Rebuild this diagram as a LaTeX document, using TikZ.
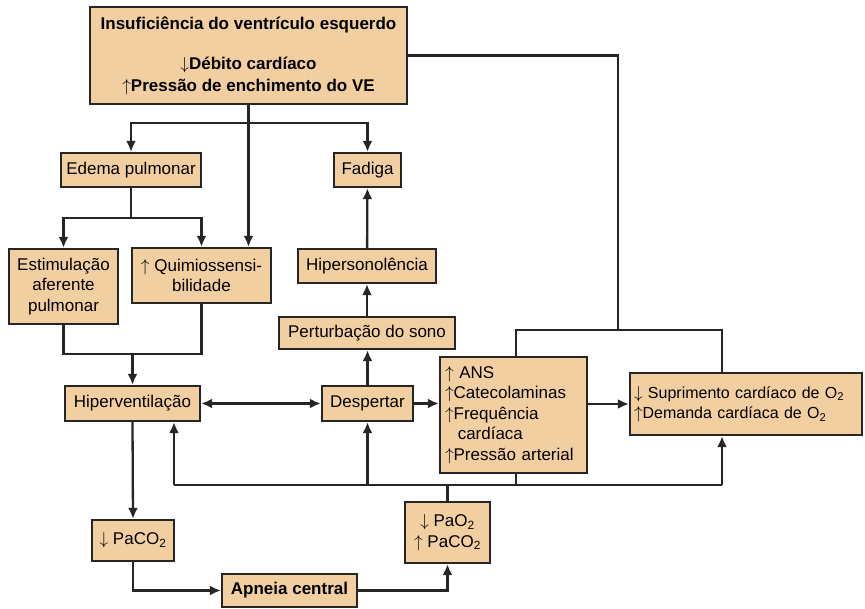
\documentclass[tikz,border=0pt]{standalone}
\usepackage{fontspec}
\setmainfont{Liberation Sans}
\usetikzlibrary{arrows.meta}
\definecolor{bege}{RGB}{242,207,160}
\newcommand{\sobe}{$\uparrow$}
\newcommand{\desce}{$\downarrow$}

\tikzset{
  caixa/.style={draw=black!85, fill=bege, line width=2.3pt, align=center, inner sep=2pt,
    font=\fontsize{17}{20.5}\selectfont},
  linha/.style={line width=2.3pt, draw=black!85},
  seta/.style={linha, -{Latex[length=11pt,width=10pt]}}
}

\begin{document}
\begin{tikzpicture}[x=1pt,y=-1pt]
\useasboundingbox (0,0) rectangle (865,608);

\node[caixa, minimum width=317pt, minimum height=97pt, font=\fontsize{17}{22}\selectfont\bfseries] (topo) at (248.5,55.5)
  {Insuficiência do ventrículo esquerdo\\[18pt]\desce Débito cardíaco\\\sobe Pressão de enchimento do VE};
\node[caixa, minimum width=140pt, minimum height=34pt] (edema) at (131,170) {Edema pulmonar};
\node[caixa, minimum width=67pt, minimum height=34pt] (fadiga) at (367.5,170) {Fadiga};
\node[caixa, minimum width=109pt, minimum height=75pt] (estim) at (63.5,286.5) {Estimulação\\aferente\\pulmonar};
\node[caixa, minimum width=139pt, minimum height=55pt] (quimio) at (201.5,275.5) {\sobe{} Quimiossensi-\\bilidade};
\node[caixa, minimum width=138pt, minimum height=34pt] (hiperson) at (367,266) {Hipersonolência};
\node[caixa, minimum width=176pt, minimum height=32pt] (perturb) at (367,333) {Perturbação do sono};
\node[caixa, minimum width=135pt, minimum height=35pt] (hiperv) at (132.5,403.5) {Hiperventilação};
\node[caixa, minimum width=91pt, minimum height=35pt] (despertar) at (367.5,403.5) {Despertar};
\node[caixa, align=left, text width=137pt, inner xsep=5pt, minimum height=116pt] (ans) at (513.5,415)
  {\sobe{} ANS\\\sobe Catecolaminas\\\sobe Frequência\\\hspace*{0.75em}cardíaca\\\sobe Pressão arterial};
\node[caixa, align=left, text width=224pt, inner xsep=4pt, minimum height=62pt,
  font=\fontsize{16}{20.5}\selectfont] (supr) at (746,404)
  {\desce{} Suprimento cardíaco de O\textsubscript{2}\\\sobe Demanda cardíaca de O\textsubscript{2}};
\node[caixa, minimum width=82pt, minimum height=41pt] (paco) at (133,540.5) {\desce{} PaCO\textsubscript{2}};
\node[caixa, minimum width=85pt, minimum height=61pt] (pao) at (447.5,532.5) {\desce{} PaO\textsubscript{2}\\\sobe{} PaCO\textsubscript{2}};
\node[caixa, minimum width=135pt, minimum height=33pt, font=\fontsize{17}{20.5}\selectfont\bfseries] (apneia) at (289.5,590.5) {Apneia central};

\coordinate (r1) at (248.5,123);
\coordinate (r3) at (132.5,354);
\coordinate (c1) at (618,330);
\coordinate (c2) at (722,330);
\coordinate (b0) at (174,485);
\coordinate (b1) at (447.5,485);
\coordinate (b2) at (722,485);
\path (edema.south) ++(0,30) coordinate (r2);

\draw[seta] (topo.south) -- (topo.south |- quimio.north);
\draw[seta] (r1) -| (edema.north);
\draw[seta] (r1) -| (fadiga.north);
\draw[linha] (edema.south) -- (r2);
\draw[seta] (r2) -| (estim.north);
\draw[seta] (r2) -| (quimio.north);
\draw[linha] (estim.south) |- (quimio.south |- r3) -- (quimio.south);
\draw[seta] (r3) -- (hiperv.north);

\draw[seta, {Latex[length=11pt,width=10pt]}-{Latex[length=11pt,width=10pt]}] (hiperv) -- (despertar);
\draw[seta] (despertar.east) -- (despertar.east -| ans.west);
\draw[seta] (despertar.north) -- (despertar.north |- perturb.south);
\draw[seta] (perturb) -- (hiperson);
\draw[seta] (hiperson) -- (fadiga);
\draw[seta] (ans.east |- supr.west) -- (supr.west);

\draw[linha] (topo.east) -| (c1);
\draw[linha] (ans.north -| 516,0) |- (c2) -- (c2 |- supr.north);

\draw[seta] (hiperv.south) -- (paco.north);
\draw[seta] (paco.south) |- (apneia.west);
\draw[seta] (apneia.east) -| (pao.south);

\draw[linha] (pao.north) -- (b1);
\draw[linha] (ans.south -| 516,0) -- (516,485);
\draw[linha] (b0) -- (b2);
\draw[seta] (b0) -- (b0 |- hiperv.south);
\draw[seta] (despertar.south |- b1) -- (despertar.south);
\draw[seta] (b2) -- (b2 |- supr.south);
\end{tikzpicture}
\end{document}
